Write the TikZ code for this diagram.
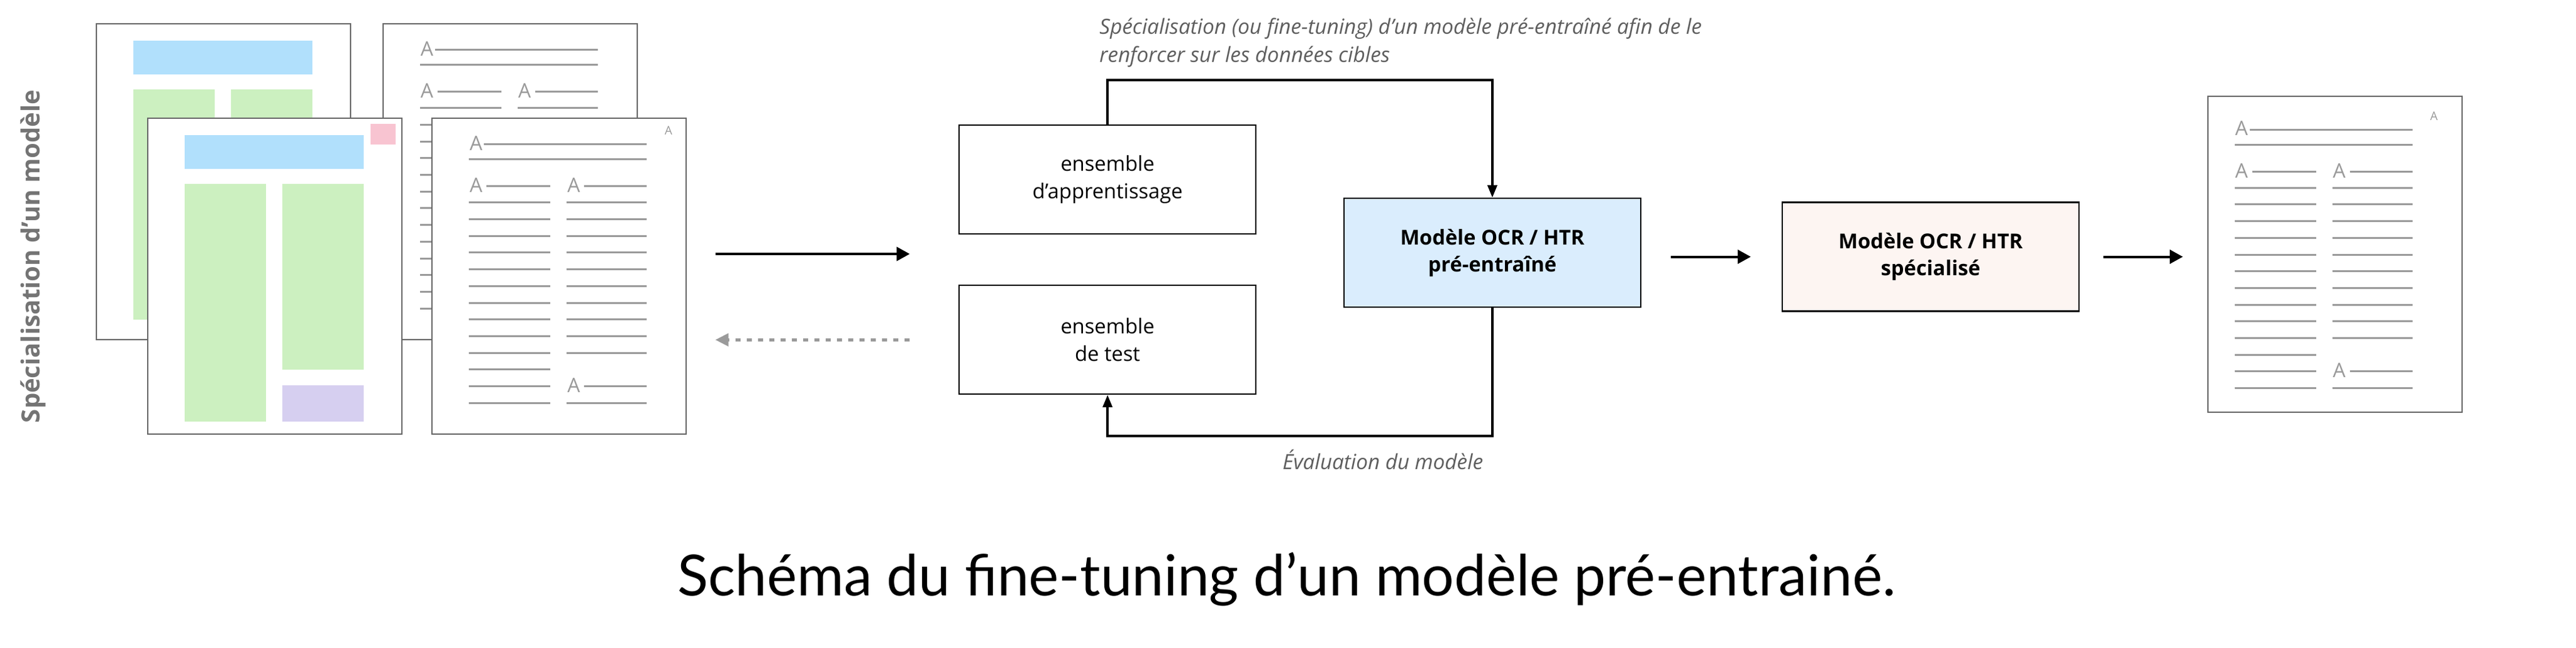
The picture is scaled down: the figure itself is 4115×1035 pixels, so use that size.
\documentclass[tikz,border=0pt]{standalone}
\usepackage{fontspec}
\setmainfont{Open Sans}
\newfontfamily\titlefont{Lato}
\usetikzlibrary{arrows.meta,calc}
\definecolor{ink}{HTML}{000000}
\definecolor{pagegray}{HTML}{666666}
\definecolor{rulegray}{HTML}{9A9A9A}
\definecolor{notegray}{HTML}{5E5E5E}
\definecolor{sidegray}{HTML}{747474}
\definecolor{zoneblue}{HTML}{B1E0FC}
\definecolor{zonegreen}{HTML}{CCF0C0}
\definecolor{zonepurple}{HTML}{D6CFF0}
\definecolor{zonepink}{HTML}{F8C4D1}
\definecolor{prefill}{HTML}{DAEDFD}
\definecolor{specfill}{HTML}{FDF5F2}
\tikzset{
  docpage/.style={
    draw=pagegray,
    fill=white,
    line width=1pt,
    minimum width=203pt,
    minimum height=252.5pt,
    inner sep=0pt,
    anchor=north west
  },
  txtrule/.style={draw=rulegray, line width=1.5pt},
  glyph/.style={text=rulegray, font=\fontsize{16}{16}\selectfont, inner sep=0pt},
  smallglyph/.style={glyph, font=\fontsize{9.5}{9.5}\selectfont},
  block/.style={
    draw=ink,
    line width=1.2pt,
    minimum width=237pt,
    minimum height=87pt,
    align=center,
    inner sep=0pt,
    font=\fontsize{16.4}{22}\selectfont
  },
  model/.style={block, font=\fontsize{16.4}{21.5}\selectfont\bfseries},
  link/.style={draw=ink, line width=2pt, -{Triangle[length=10pt,width=7.5pt]}},
  flow/.style={draw=ink, line width=2pt, -{Triangle[length=10.5pt,width=11pt]}},
  backflow/.style={draw=rulegray, line width=2.3pt, dash pattern=on 4pt off 5pt, -{Triangle[length=10.5pt,width=10pt]}},
  note/.style={text=notegray, font=\fontsize{16.7}{22.4}\selectfont\itshape, align=left, inner sep=0pt}
}
% text page with two columns, coordinates relative to the page corner
\newcommand{\textcolumns}[1]{%
  \node[glyph] at (71,41) {A};
  \draw[txtrule] (84,43) -- (344,43);
  \draw[txtrule] (60,67) -- (344,67);
  \node[glyph] at (71,108.5) {A};
  \draw[txtrule] (88,110) -- (190,110);
  \node[glyph] at (227,108.5) {A};
  \draw[txtrule] (244,110) -- (344,110);
  \foreach \k in {0,...,12}
    \draw[txtrule] (60,136+26.7*\k) -- (190,136+26.7*\k);
  \foreach \k in {0,...,9,12}
    \draw[txtrule] (216,136+26.7*\k) -- (344,136+26.7*\k);
  \node[glyph] at (227,134.5+26.7*11) {A};
  \draw[txtrule] (244,136+26.7*11) -- (344,136+26.7*11);
  #1%
}
\begin{document}
\begin{tikzpicture}[x=0.5pt, y=-0.5pt]
  \useasboundingbox (0,0) rectangle (4115,1035);

  % Input documents
  \node[docpage] (pageA) at (152.5,36.7) {};
  \begin{scope}[shift={(pageA.north west)}]
    \fill[zoneblue] (60,28) rectangle (346,82);
    \fill[zonegreen] (60,106) rectangle (190,474);
    \fill[zonegreen] (216,106) rectangle (346,474);
  \end{scope}
  \node[docpage] (pageB) at (611,36.7) {};
  \begin{scope}[shift={(pageB.north west)}]
    \textcolumns{}
  \end{scope}
  \node[docpage] (pageC) at (235.4,187.8) {};
  \begin{scope}[shift={(pageC.north west)}]
    \fill[zoneblue] (60,28) rectangle (346,82);
    \fill[zonegreen] (60,106) rectangle (190,486);
    \fill[zonegreen] (216,106) rectangle (346,403);
    \fill[zonepurple] (216,428) rectangle (346,486);
    \fill[zonepink] (357,10) rectangle (397,43.5);
  \end{scope}
  \node[docpage] (pageD) at (689.4,187.8) {};
  \begin{scope}[shift={(pageD.north west)}]
    \textcolumns{\node[smallglyph] at (378.5,21) {A};}
  \end{scope}
  \node[text=sidegray, font=\fontsize{20}{20}\selectfont\bfseries, rotate=90] (side) at (53,410) {Spécialisation d’un modèle};

  % Datasets and models
  \node[block] (train) at (1769.2,286.8) {ensemble\\d’apprentissage};
  \node[block] (test) at (1769.2,543) {ensemble\\de test};
  \node[model, fill=prefill] (pre) at (2383.9,404.2) {Modèle OCR / HTR\\pré-entraîné};
  \node[model, fill=specfill] (spec) at (3084,410.5) {Modèle OCR / HTR\\spécialisé};

  % Output document
  \node[docpage] (pageE) at (3525.6,153.2) {};
  \begin{scope}[shift={($(pageE.north west)+(-16,11)$)}]
    \textcolumns{\node[smallglyph] at (378.5,21) {A};}
  \end{scope}

  % Arrows
  \coordinate (inStart) at (1142.7,406);
  \coordinate (inEnd) at (1453.3,406);
  \coordinate (backStart) at (1453.3,543.3);
  \coordinate (backEnd) at (1142.7,543.3);
  \draw[flow] (inStart) -- (inEnd);
  \draw[backflow] (backStart) -- (backEnd);
  \draw[link] (train.north) -- ++(0,-70.6) -| (pre.north);
  \draw[link] (pre.south) -- ++(0,204.8) -| (test.south);
  \draw[flow, shorten <=23.5pt, shorten >=24.5pt] (spec.west -| pre.east) -- (spec.west);
  \draw[flow, shorten <=18.9pt, shorten >=19.3pt] (spec.east) -- (spec.east -| pageE.west);

  % Labels
  \node[note, anchor=west] (tuneNote) at (1756,68) {Spécialisation (ou fine-tuning) d’un modèle pré-entraîné afin de le\\renforcer sur les données cibles};
  \node[note] (evalNote) at (2209,735) {Évaluation du modèle};
  \node[font=\titlefont\fontsize{45.4}{45.4}\selectfont] (title) at (2055,926) {Schéma du fine-tuning d’un modèle pré-entrainé.};
\end{tikzpicture}
\end{document}
